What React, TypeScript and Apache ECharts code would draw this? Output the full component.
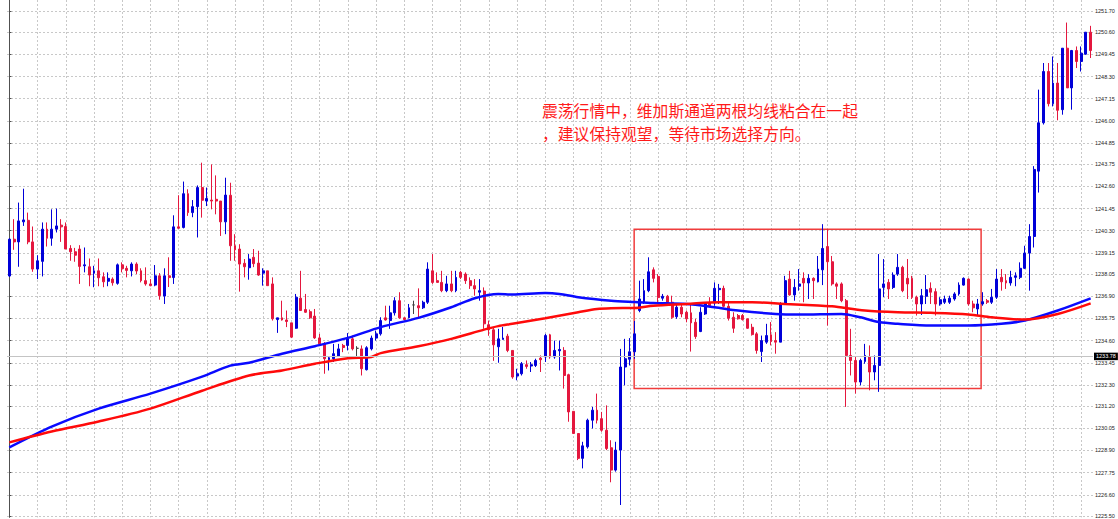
import React, { useEffect, useRef } from 'react';
import * as echarts from 'echarts';

// [open, close, low, high] per bar
const ohlc: number[][] = [
  [1237.95, 1239.86, 1237.90, 1239.91], [1239.86, 1239.72, 1239.31, 1240.90], [1239.72, 1240.81, 1238.43, 1241.76],
  [1240.76, 1240.86, 1240.55, 1242.48], [1240.84, 1239.72, 1239.60, 1241.24], [1239.72, 1238.31, 1238.17, 1240.52],
  [1238.31, 1238.74, 1237.79, 1239.03], [1238.71, 1240.38, 1237.93, 1240.73], [1240.38, 1239.91, 1239.48, 1240.73],
  [1239.91, 1240.38, 1239.52, 1241.41], [1240.38, 1240.55, 1240.21, 1241.45], [1240.59, 1240.50, 1239.72, 1240.90],
  [1240.52, 1239.35, 1239.35, 1240.73], [1239.38, 1239.21, 1238.74, 1239.55], [1239.21, 1239.03, 1238.69, 1239.41],
  [1239.35, 1238.45, 1237.54, 1239.55], [1238.48, 1238.53, 1238.14, 1239.43], [1238.43, 1238.00, 1237.42, 1238.86],
  [1238.10, 1238.22, 1237.37, 1238.48], [1238.22, 1237.86, 1237.42, 1238.86], [1237.91, 1237.65, 1237.37, 1238.14],
  [1237.68, 1237.83, 1237.42, 1238.14], [1237.79, 1237.60, 1237.45, 1237.88], [1237.57, 1238.53, 1237.50, 1238.60],
  [1238.53, 1238.33, 1238.14, 1238.66], [1238.35, 1238.24, 1237.88, 1238.48], [1238.22, 1238.57, 1237.93, 1238.66],
  [1238.57, 1238.21, 1238.05, 1238.66], [1238.22, 1237.71, 1237.62, 1238.35], [1237.71, 1237.54, 1237.45, 1238.40],
  [1237.54, 1237.45, 1237.42, 1237.79], [1237.48, 1237.96, 1237.42, 1238.52], [1237.96, 1236.93, 1236.72, 1238.10],
  [1236.91, 1237.96, 1236.50, 1238.35], [1237.96, 1237.87, 1237.38, 1238.92], [1237.87, 1240.50, 1237.54, 1241.10],
  [1240.50, 1240.43, 1240.40, 1242.14], [1240.47, 1242.22, 1240.42, 1242.85], [1242.22, 1241.24, 1241.07, 1242.45],
  [1241.24, 1241.55, 1241.00, 1241.89], [1241.55, 1242.54, 1239.95, 1242.65], [1242.54, 1241.88, 1240.98, 1243.83],
  [1241.84, 1241.97, 1241.58, 1242.54], [1241.89, 1241.84, 1241.41, 1243.74], [1241.93, 1241.84, 1241.15, 1243.17],
  [1241.84, 1240.76, 1240.03, 1241.84], [1240.76, 1242.15, 1240.12, 1243.05], [1242.14, 1239.52, 1238.74, 1242.79],
  [1239.52, 1239.31, 1238.74, 1240.12], [1239.35, 1238.57, 1237.14, 1239.60], [1238.61, 1238.43, 1237.88, 1238.83],
  [1238.38, 1238.83, 1237.76, 1239.09], [1238.92, 1238.59, 1238.41, 1239.35], [1238.62, 1238.00, 1237.96, 1239.26],
  [1238.10, 1238.22, 1237.45, 1238.35], [1238.22, 1237.45, 1237.45, 1238.22], [1237.54, 1235.73, 1235.64, 1237.88],
  [1235.69, 1235.78, 1235.00, 1235.78], [1235.78, 1235.67, 1235.64, 1236.67], [1235.67, 1235.59, 1235.30, 1236.16],
  [1235.52, 1234.78, 1234.73, 1235.52], [1235.24, 1236.85, 1235.21, 1237.02], [1236.80, 1236.16, 1236.16, 1238.22],
  [1236.21, 1236.07, 1236.04, 1237.02], [1236.10, 1235.78, 1235.73, 1236.21], [1235.87, 1234.74, 1234.69, 1236.24],
  [1234.74, 1234.43, 1234.35, 1234.95], [1234.43, 1233.66, 1232.88, 1234.52], [1233.61, 1233.71, 1233.05, 1233.75],
  [1233.66, 1233.92, 1233.49, 1234.43], [1233.80, 1234.17, 1233.75, 1234.43], [1234.35, 1234.24, 1234.00, 1234.43],
  [1234.35, 1234.69, 1234.09, 1234.99], [1234.69, 1234.17, 1234.09, 1234.86], [1234.20, 1234.20, 1233.66, 1234.31],
  [1234.17, 1233.14, 1232.79, 1234.35], [1233.09, 1234.23, 1233.05, 1234.31], [1234.17, 1234.73, 1234.09, 1234.86],
  [1234.73, 1234.95, 1234.60, 1235.12], [1234.95, 1235.64, 1234.86, 1235.81], [1235.78, 1235.67, 1235.64, 1236.41],
  [1235.64, 1236.04, 1235.21, 1236.41], [1236.04, 1236.67, 1235.90, 1236.85], [1236.67, 1235.78, 1235.73, 1237.11],
  [1235.78, 1235.69, 1235.64, 1235.81], [1235.78, 1236.30, 1235.76, 1236.50], [1236.45, 1236.45, 1235.98, 1236.67],
  [1236.41, 1236.30, 1235.81, 1237.31], [1236.30, 1236.59, 1236.24, 1236.67], [1236.59, 1238.31, 1236.50, 1238.66],
  [1238.22, 1237.62, 1237.54, 1239.09], [1237.71, 1237.62, 1237.62, 1238.14], [1237.62, 1237.19, 1237.11, 1238.22],
  [1237.19, 1237.54, 1237.11, 1237.96], [1237.54, 1237.19, 1237.11, 1238.22], [1237.19, 1237.88, 1237.11, 1238.22],
  [1238.14, 1237.88, 1237.79, 1238.22], [1238.05, 1237.71, 1237.54, 1238.14], [1237.71, 1237.45, 1237.28, 1237.88],
  [1237.45, 1237.28, 1236.93, 1237.79], [1237.11, 1237.19, 1236.67, 1237.79], [1237.17, 1235.47, 1235.21, 1237.36],
  [1235.42, 1235.16, 1234.85, 1235.64], [1235.16, 1234.38, 1233.55, 1235.26], [1234.28, 1234.69, 1233.45, 1235.21],
  [1234.66, 1234.73, 1234.66, 1235.31], [1234.83, 1234.09, 1234.00, 1234.95], [1234.09, 1232.71, 1232.62, 1234.09],
  [1232.76, 1232.88, 1232.54, 1233.14], [1232.88, 1233.40, 1232.79, 1233.49], [1233.35, 1233.26, 1233.14, 1233.57],
  [1233.28, 1233.35, 1232.97, 1233.49], [1233.31, 1233.57, 1233.23, 1233.66], [1233.69, 1233.61, 1232.97, 1233.83],
  [1233.75, 1234.86, 1233.49, 1234.95], [1234.90, 1233.75, 1233.66, 1234.95], [1233.75, 1234.09, 1233.66, 1234.60],
  [1234.07, 1234.14, 1233.05, 1234.60], [1234.09, 1232.79, 1232.11, 1234.26], [1232.83, 1230.90, 1230.39, 1232.88],
  [1230.93, 1229.78, 1229.78, 1230.93], [1229.78, 1228.49, 1228.40, 1229.78], [1228.49, 1229.14, 1227.97, 1229.35],
  [1229.09, 1230.47, 1229.00, 1230.55], [1230.47, 1230.99, 1230.04, 1231.16], [1230.99, 1230.47, 1230.30, 1231.85],
  [1230.55, 1229.95, 1229.87, 1230.90], [1229.95, 1229.00, 1228.92, 1231.24], [1229.04, 1227.88, 1227.25, 1229.43],
  [1227.88, 1228.92, 1227.80, 1229.35], [1228.92, 1233.23, 1226.07, 1234.17], [1233.23, 1233.66, 1232.28, 1234.69],
  [1233.63, 1234.02, 1233.31, 1234.73], [1234.02, 1234.95, 1233.66, 1235.62], [1236.16, 1236.76, 1236.07, 1237.71],
  [1236.59, 1237.19, 1236.50, 1237.79], [1237.19, 1238.17, 1237.11, 1238.92], [1238.27, 1237.83, 1237.62, 1238.40],
  [1237.93, 1236.83, 1236.50, 1238.05], [1236.80, 1236.90, 1236.67, 1237.02], [1236.90, 1236.59, 1236.50, 1236.97],
  [1236.59, 1235.81, 1235.73, 1236.93], [1235.84, 1236.33, 1235.73, 1236.50], [1236.33, 1235.98, 1235.81, 1236.50],
  [1236.07, 1235.73, 1235.55, 1236.16], [1236.04, 1235.52, 1234.03, 1236.50], [1235.55, 1234.81, 1234.69, 1235.73],
  [1235.07, 1236.07, 1235.04, 1236.33], [1235.98, 1236.55, 1235.93, 1236.59], [1236.55, 1236.41, 1236.33, 1236.85],
  [1236.55, 1237.31, 1236.41, 1237.62], [1237.24, 1237.31, 1236.50, 1237.54], [1237.31, 1236.38, 1236.33, 1237.45],
  [1236.38, 1235.76, 1235.64, 1236.59], [1235.81, 1235.24, 1235.00, 1236.07], [1235.90, 1235.73, 1235.69, 1235.98],
  [1235.90, 1235.69, 1235.64, 1235.98], [1235.73, 1235.24, 1235.21, 1235.73], [1235.29, 1234.91, 1234.86, 1235.47],
  [1234.95, 1234.09, 1233.92, 1235.04], [1234.03, 1234.60, 1233.49, 1234.86], [1234.52, 1234.86, 1234.43, 1235.47],
  [1234.90, 1234.55, 1234.35, 1235.56], [1234.60, 1234.52, 1233.92, 1235.04], [1234.52, 1236.50, 1234.52, 1236.59],
  [1236.50, 1237.71, 1236.50, 1237.96], [1237.79, 1236.97, 1236.93, 1238.22], [1236.97, 1237.36, 1236.67, 1237.79],
  [1237.42, 1237.54, 1237.19, 1238.31], [1237.83, 1237.59, 1236.59, 1238.14], [1237.59, 1237.83, 1236.76, 1238.05],
  [1237.83, 1237.71, 1236.76, 1237.88], [1237.65, 1238.31, 1237.62, 1238.99], [1238.27, 1239.38, 1237.48, 1240.64],
  [1239.48, 1238.69, 1235.38, 1240.38], [1238.69, 1237.54, 1237.45, 1238.99], [1237.54, 1237.42, 1236.76, 1237.62],
  [1237.54, 1236.67, 1236.59, 1237.62], [1236.67, 1233.83, 1231.16, 1236.76], [1233.83, 1233.57, 1232.79, 1235.21],
  [1233.57, 1232.45, 1231.85, 1233.75], [1232.45, 1233.57, 1232.28, 1233.66], [1233.52, 1233.83, 1233.40, 1234.43],
  [1233.75, 1232.97, 1232.02, 1234.35], [1232.97, 1233.31, 1232.54, 1233.83], [1233.31, 1237.28, 1231.94, 1239.09],
  [1237.36, 1237.54, 1236.85, 1238.83], [1237.62, 1237.28, 1236.76, 1237.79], [1237.36, 1238.00, 1237.28, 1238.14],
  [1238.05, 1238.40, 1237.96, 1239.09], [1238.40, 1237.19, 1237.11, 1238.48], [1237.83, 1237.54, 1236.76, 1238.83],
  [1237.83, 1236.85, 1236.76, 1237.96], [1236.85, 1236.50, 1235.90, 1236.93], [1236.50, 1236.93, 1235.93, 1237.28],
  [1236.90, 1237.24, 1236.50, 1238.00], [1237.31, 1237.11, 1236.50, 1237.62], [1237.14, 1236.50, 1235.90, 1237.31],
  [1236.50, 1236.72, 1236.41, 1236.85], [1236.59, 1236.76, 1236.50, 1236.93], [1236.59, 1236.80, 1236.50, 1236.93],
  [1236.76, 1237.02, 1236.67, 1237.11], [1237.02, 1237.48, 1236.93, 1237.62], [1237.48, 1237.83, 1237.45, 1237.88],
  [1237.79, 1236.50, 1236.41, 1237.83], [1236.50, 1236.30, 1236.07, 1236.67], [1236.24, 1236.50, 1235.90, 1236.76],
  [1236.50, 1236.62, 1236.41, 1237.11], [1236.67, 1236.59, 1236.50, 1236.76], [1236.59, 1236.85, 1236.50, 1237.28],
  [1236.85, 1237.79, 1236.76, 1238.31], [1237.88, 1237.65, 1237.19, 1238.31], [1237.71, 1237.59, 1237.28, 1238.05],
  [1237.59, 1237.88, 1237.45, 1238.22], [1237.88, 1237.96, 1237.42, 1238.14], [1237.88, 1238.35, 1237.79, 1238.66],
  [1238.35, 1239.14, 1238.31, 1239.52], [1239.14, 1240.00, 1237.19, 1240.64], [1240.00, 1243.48, 1239.43, 1243.65],
  [1243.39, 1245.90, 1242.28, 1247.62], [1245.90, 1248.56, 1245.81, 1249.00], [1248.56, 1246.89, 1246.75, 1249.00],
  [1246.89, 1247.96, 1246.75, 1249.34], [1247.96, 1246.55, 1246.03, 1249.00], [1246.58, 1249.77, 1246.32, 1249.77],
  [1249.77, 1247.71, 1247.71, 1251.10], [1247.71, 1249.65, 1246.58, 1249.68], [1249.65, 1249.08, 1248.74, 1249.86],
  [1249.08, 1249.51, 1248.56, 1249.86], [1249.46, 1250.60, 1249.43, 1250.60], [1250.60, 1249.65, 1249.26, 1250.93],
];

const categories = ohlc.map((_, i) => String(i));

const priceTickLabels = [
  '1225.50', '1226.60', '1227.75', '1228.90', '1230.05', '1231.20', '1232.30', '1233.45',
  '1234.60', '1235.75', '1236.90', '1238.05', '1239.15', '1240.30', '1241.45', '1242.60',
  '1243.75', '1244.85', '1246.00', '1247.15', '1248.30', '1249.45', '1250.60', '1251.70',
];

// [bar index, value]
const blueMA: number[][] = [
  [0, 1229.06], [9, 1230.14], [19, 1231.07], [30, 1231.85], [41, 1232.73], [47, 1233.30], [51, 1233.45],
  [58, 1233.92], [65, 1234.31], [72, 1234.74], [79, 1235.30], [87, 1235.78], [94, 1236.33], [99, 1236.80],
  [104, 1237.02], [107, 1236.99], [114, 1237.07], [117, 1237.02], [121, 1236.85], [128, 1236.67], [133, 1236.60],
  [137, 1236.55], [144, 1236.50], [150, 1236.33], [155, 1236.16], [163, 1235.98], [168, 1235.95], [177, 1235.98],
  [181, 1235.81], [185, 1235.56], [189, 1235.47], [196, 1235.38], [204, 1235.38], [211, 1235.47], [216, 1235.64],
  [223, 1236.16], [230, 1236.79],
];
const redMA: number[][] = [
  [0, 1229.32], [9, 1229.88], [19, 1230.40], [30, 1231.07], [41, 1232.00], [51, 1232.79], [58, 1233.05],
  [65, 1233.40], [72, 1233.69], [77, 1233.75], [79, 1233.95], [87, 1234.31], [94, 1234.69], [101, 1235.17],
  [104, 1235.35], [107, 1235.47], [114, 1235.76], [121, 1236.07], [125, 1236.24], [128, 1236.28], [133, 1236.29],
  [137, 1236.41], [144, 1236.50], [151, 1236.59], [158, 1236.59], [165, 1236.50], [172, 1236.42], [175, 1236.38],
  [182, 1236.16], [189, 1236.07], [196, 1236.04], [204, 1235.96], [209, 1235.81], [216, 1235.69], [223, 1235.98],
  [230, 1236.53],
];

const currentPrice = 1233.78;
const boxLeft = 132.9;
const boxRight = 206.7;
const boxTop = 1240.38;
const boxBottom = 1232.11;
const noteLines = ['震荡行情中，维加斯通道两根均线粘合在一起', '，建议保持观望，等待市场选择方向。'];

const gridEvery = 6;

export default function App() {
  const ref = useRef<HTMLDivElement>(null);
  useEffect(() => {
    const chart = echarts.init(ref.current!, null, { renderer: 'svg' });
    const tickValues = priceTickLabels.map(Number);
    const vGrid: number[] = [];
    for (let i = 0; i < ohlc.length; i += gridEvery) vGrid.push(i);
    const gridLine = { color: '#c8c8c8', width: 1, type: [2, 2] };
    chart.setOption({
      animation: false,
      backgroundColor: '#ffffff',
      grid: { left: 7, right: 25, top: 0, bottom: 0 },
      xAxis: [
        { type: 'category', data: categories, boundaryGap: true, show: false },
        {
          type: 'value', min: -0.5, max: ohlc.length - 0.5, position: 'bottom',
          axisLine: { show: false }, axisLabel: { show: false },
          axisTick: { show: false, customValues: vGrid },
          splitLine: { show: true, lineStyle: gridLine },
        },
      ],
      yAxis: {
        type: 'value', position: 'right', min: 1225.43, max: 1252.27,
        axisLine: { show: true, lineStyle: { color: '#505050', width: 1 } },
        axisTick: { show: true, length: 2, customValues: tickValues, lineStyle: { color: '#505050' } },
        axisLabel: {
          customValues: tickValues, formatter: (v: number) => v.toFixed(2),
          fontSize: 5.5, color: '#222', margin: 2, fontFamily: 'Liberation Sans',
        },
        splitLine: { show: true, lineStyle: gridLine },
      },
      graphic: [
        {
          type: 'text', left: 542, top: 98.5, z: 10,
          style: {
            text: noteLines.join('\n'), fill: '#ff1a1a', fontSize: 15.8,
            fontFamily: 'Noto Sans CJK SC', lineHeight: 23,
          },
        },
      ],
      series: [
        {
          type: 'candlestick', xAxisIndex: 0, yAxisIndex: 0, data: ohlc, barWidth: 2.4,
          itemStyle: {
            color: '#0000d8', color0: '#e4173e', borderColor: '#0000d8', borderColor0: '#e4173e',
            borderColorDoji: '#404040', borderWidth: 1,
          },
          markLine: {
            silent: true, symbol: ['none', 'none'], animation: false,
            lineStyle: { color: '#c4c4c4', width: 1, type: 'solid' },
            label: {
              show: true, position: 'end', formatter: currentPrice.toFixed(2), color: '#fff',
              backgroundColor: '#000', fontSize: 5.5, fontFamily: 'Liberation Sans',
              padding: [1, 2, 0.5, 2], distance: 1,
            },
            data: [{ yAxis: currentPrice }],
          },
        },
        {
          type: 'line', xAxisIndex: 1, yAxisIndex: 0, data: blueMA, showSymbol: false, z: 3,
          smooth: 0.3, lineStyle: { color: '#0a0aff', width: 2.5 },
        },
        {
          type: 'line', xAxisIndex: 1, yAxisIndex: 0, data: redMA, showSymbol: false, z: 3,
          smooth: 0.3, lineStyle: { color: '#ff0a0a', width: 2.5 },
          markArea: {
            silent: true,
            itemStyle: { color: 'rgba(0,0,0,0)', borderColor: '#f03c3c', borderWidth: 1.5 },
            label: { show: false },
            data: [[{ xAxis: boxLeft, yAxis: boxTop }, { xAxis: boxRight, yAxis: boxBottom }]],
          },
        },
      ],
    });
    return () => chart.dispose();
  }, []);
  return (
    <div
      ref={ref}
      style={{ position: 'fixed', left: 0, top: 0, width: 1118, height: 519, background: '#fff' }}
    />
  );
}
